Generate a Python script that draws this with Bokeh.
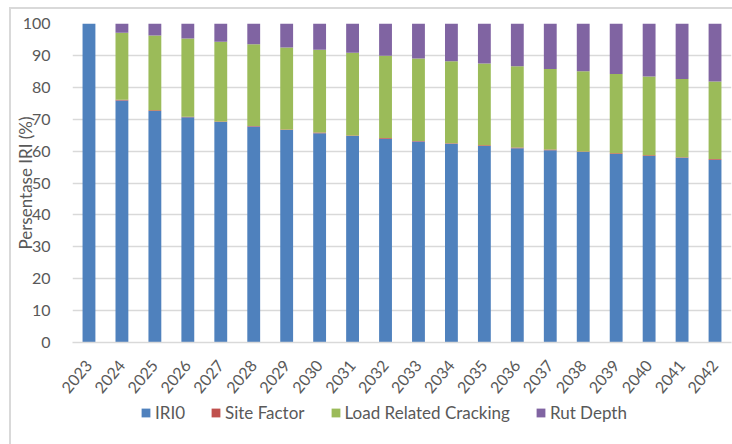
from bokeh.plotting import figure
from bokeh.models import Legend, FactorRange, SingleIntervalTicker
from bokeh.layouts import column
from bokeh.embed import file_html
from bokeh.resources import INLINE
import math

# Share of IRI by contributing factor per year (percent)
years = [str(y) for y in range(2023, 2043)]
iri0 = [100, 75.9, 72.6, 70.6, 69.1, 67.7, 66.6, 65.6, 64.7, 63.9,
        63.0, 62.3, 61.6, 60.9, 60.3, 59.7, 59.1, 58.5, 57.9, 57.3]
site_factor = [0, 0.2, 0.2, 0.2, 0.2, 0.2, 0.2, 0.2, 0.2, 0.2,
               0.2, 0.2, 0.2, 0.2, 0.2, 0.2, 0.2, 0.2, 0.2, 0.2]
load_cracking = [0, 21.0, 23.4, 24.5, 25.0, 25.6, 25.7, 26.0, 25.9, 25.8,
                 25.8, 25.7, 25.7, 25.5, 25.2, 25.1, 24.9, 24.7, 24.5, 24.3]
rut_depth = [0, 2.9, 3.8, 4.7, 5.7, 6.5, 7.5, 8.2, 9.2, 10.1,
             11.0, 11.8, 12.5, 13.4, 14.3, 15.0, 15.8, 16.6, 17.4, 18.2]

series = ["IRI0", "Site Factor", "Load Related Cracking", "Rut Depth"]
colors = ["#4F81BD", "#C0504D", "#9BBB59", "#8064A2"]
keys = ["iri0", "site", "load", "rut"]

data = dict(year=years, iri0=iri0, site=site_factor, load=load_cracking, rut=rut_depth)

FONT = "Lato"
TEXT = "#595959"
GRID = "#d9d9d9"

p = figure(
    x_range=FactorRange(*years), y_range=(0, 100),
    width=721, height=393,
    output_backend="svg", toolbar_location=None,
    min_border_left=59, min_border_right=1, min_border_top=14, min_border_bottom=60,
)

p.vbar_stack(keys, x="year", width=0.39, color=colors, line_color=None, source=data)

p.outline_line_color = None

# y axis
p.yaxis.ticker = SingleIntervalTicker(interval=10)
p.yaxis.axis_line_color = None
p.yaxis.major_tick_line_color = None
p.yaxis.minor_tick_line_color = None
p.yaxis.major_tick_out = 0
p.yaxis.major_label_standoff = 18
p.yaxis.major_label_text_font = FONT
p.yaxis.major_label_text_font_size = "16px"
p.yaxis.major_label_text_color = TEXT
p.yaxis.axis_label = "Persentase IRI (%)"
p.yaxis.axis_label_text_font = FONT
p.yaxis.axis_label_text_font_size = "17px"
p.yaxis.axis_label_text_font_style = "normal"
p.yaxis.axis_label_text_color = TEXT
p.yaxis.axis_label_standoff = -16

# x axis
p.xaxis.axis_line_color = GRID
p.xaxis.axis_line_width = 1.5
p.xaxis.major_tick_line_color = None
p.xaxis.minor_tick_line_color = None
p.xaxis.major_tick_out = 0
p.xaxis.major_label_standoff = 20
p.xaxis.major_label_orientation = math.radians(50)
p.xaxis.major_label_text_font = FONT
p.xaxis.major_label_text_font_size = "16px"
p.xaxis.major_label_text_color = TEXT

p.xgrid.grid_line_color = None
p.ygrid.grid_line_color = GRID
p.ygrid.grid_line_width = 1.5

# legend strip under the chart; its series renderers are hidden, only the swatches show
lg = figure(
    width=721, height=42, x_range=FactorRange(*years), y_range=(0, 100),
    output_backend="svg", toolbar_location=None,
    x_axis_type=None, y_axis_type=None,
    min_border=0, min_border_left=0, min_border_right=0,
    min_border_top=0, min_border_bottom=0,
)
lg.outline_line_color = None
swatches = lg.vbar_stack(keys, x="year", width=0.39, color=colors, line_color=None, source=data)
for r in swatches:
    r.visible = False

legend = Legend(
    items=[(name, [r]) for name, r in zip(series, swatches)],
    orientation="horizontal",
    location=(68, 21),
    border_line_color=None,
    background_fill_alpha=0,
    inactive_fill_alpha=0,
    padding=0, margin=0, spacing=25,
    glyph_width=11, glyph_height=11, label_standoff=4,
    label_text_font=FONT, label_text_font_size="17px", label_text_color=TEXT,
)
lg.add_layout(legend, "center")

page = column(
    p, lg,
    margin=(7, 0, 0, 9),
    styles={"border-top": "2px solid #d9d9d9", "border-left": "2px solid #d9d9d9"},
)

open("out.html", "w").write(file_html(page, INLINE))
